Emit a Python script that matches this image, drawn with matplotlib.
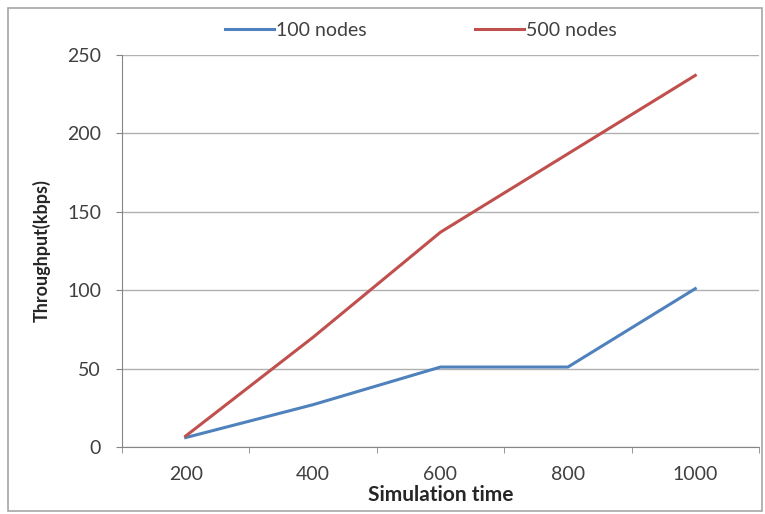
import matplotlib
matplotlib.use("Agg")
import matplotlib.pyplot as plt
from matplotlib.patches import Rectangle
import numpy as np

# data
sim_time = ["200", "400", "600", "800", "1000"]
nodes_100 = [6, 27, 51, 51, 101]
nodes_500 = [7, 70, 137, 187, 237]

plt.rcParams['font.family'] = ['Lato', 'DejaVu Sans']

fig = plt.figure(figsize=(7.65, 5.14), dpi=100)
# outer chart border
fig.patches.append(Rectangle((8 / 765, 3 / 514), 754 / 765, 503 / 514, transform=fig.transFigure,
                             fill=False, edgecolor="#a6a6a6", linewidth=1.2))

ax = fig.add_axes([122 / 765, 1 - 447 / 514, (759 - 122) / 765, (447 - 55) / 514])
x = np.arange(len(sim_time))
ax.plot(x, nodes_100, color="#4F81BD", linewidth=2.2, label="100 nodes")
ax.plot(x, nodes_500, color="#C0504D", linewidth=2.2, label="500 nodes")

ax.set_xlim(-0.5, len(sim_time) - 0.5)
ax.set_ylim(0, 250)
ax.set_yticks(np.arange(0, 251, 50))
ax.set_xticks(x)
ax.set_xticklabels(sim_time)
ax.set_xticks(np.arange(-0.5, len(sim_time)), minor=True)
ax.tick_params(axis="x", which="major", length=0, pad=14, labelsize=14, labelcolor="#404040")
ax.tick_params(axis="x", which="minor", length=4, color="#868686", direction="out")
ax.tick_params(axis="y", length=4, color="#868686", pad=11, labelsize=14, labelcolor="#404040")
ax.yaxis.grid(True, color="#b0b0b0", linewidth=1)
ax.set_axisbelow(True)
for s in ["top", "right"]:
    ax.spines[s].set_visible(False)
for s in ["left", "bottom"]:
    ax.spines[s].set_color("#868686")

ax.set_xlabel("Simulation time", fontsize=15, fontweight="bold", color="#262626", labelpad=1)
ax.set_ylabel("Throughput(kbps)", fontsize=13, fontweight="bold", color="#262626", labelpad=12)

fig.legend(loc="center", bbox_to_anchor=(0.55, 1 - 30 / 514), ncol=2, frameon=False,
           fontsize=14, handlelength=2.5, handletextpad=0.1, columnspacing=5.6,
           labelcolor="#404040")

fig.savefig("out.png", dpi=100)
